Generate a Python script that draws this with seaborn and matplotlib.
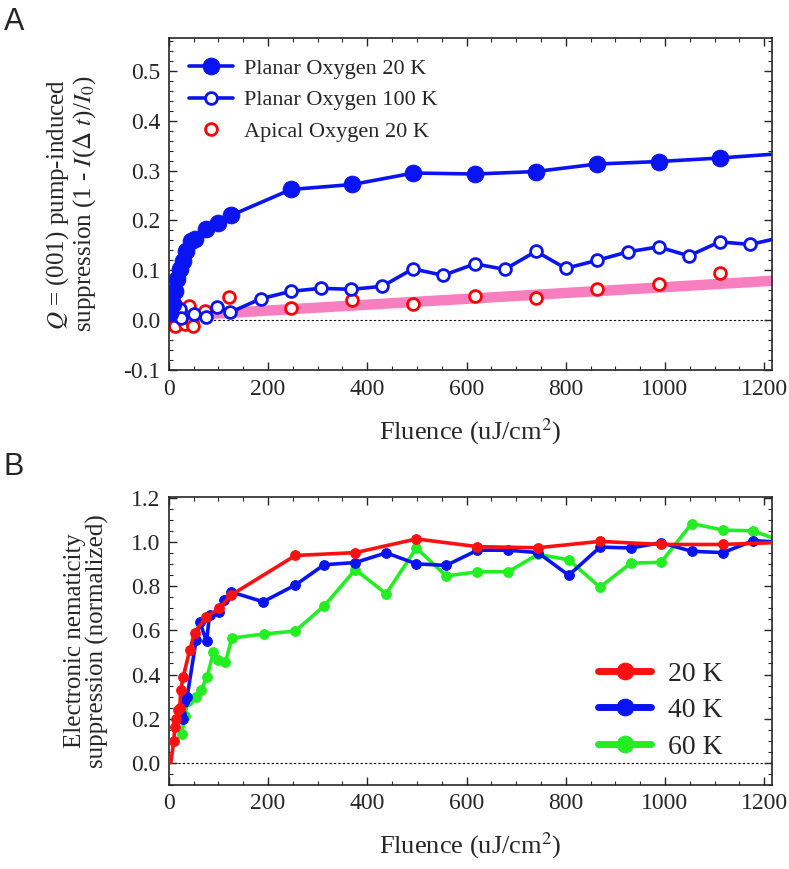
import numpy as np
import pandas as pd
import seaborn as sns
import matplotlib.pyplot as plt
from matplotlib.ticker import MultipleLocator

# Data - panel A
p20_x = [3, 9, 12, 17, 22, 29, 35, 44, 52, 75, 99, 125, 246, 370, 493, 617, 740, 863, 987, 1110, 1235]
p20_y = [0.015, 0.032, 0.058, 0.082, 0.102, 0.118, 0.139, 0.158, 0.163, 0.182, 0.195, 0.210,
         0.262, 0.272, 0.295, 0.293, 0.298, 0.313, 0.318, 0.325, 0.334]
p100_x = [12, 22, 25, 50, 75, 98, 124, 185, 246, 306, 368, 430, 492, 553, 617, 677, 740, 800,
          863, 925, 987, 1048, 1110, 1172, 1235]
p100_y = [0.010, 0.022, 0.005, 0.013, 0.006, 0.027, 0.016, 0.043, 0.058, 0.064, 0.062, 0.068,
          0.103, 0.090, 0.113, 0.102, 0.138, 0.104, 0.120, 0.137, 0.147, 0.129, 0.157, 0.152, 0.166]
ap_x = [5, 12, 15, 32, 40, 46, 48, 72, 122, 246, 370, 493, 617, 740, 863, 987, 1110]
ap_y = [-0.005, -0.012, 0.028, -0.008, 0.028, -0.004, -0.012, 0.018, 0.046,
        0.025, 0.041, 0.033, 0.049, 0.045, 0.063, 0.073, 0.095]
fit_x = [55, 1215]
fit_y = [0.011, 0.079]

# Data - panel B
r20_x = [4, 10, 12, 15, 19, 22, 24, 29, 42, 52, 75, 102, 125, 255, 376, 499, 622, 744, 869,
         992, 1117, 1240]
r20_y = [0.0, 0.10, 0.16, 0.20, 0.24, 0.25, 0.33, 0.39, 0.51, 0.59, 0.66, 0.70, 0.76, 0.94,
         0.953, 1.015, 0.98, 0.975, 1.004, 0.99, 0.99, 1.0]
b40_x = [24, 28, 30, 37, 55, 62, 76, 82, 102, 112, 125, 190, 255, 313, 376, 438, 499, 559,
         622, 684, 744, 806, 869, 931, 992, 1054, 1117, 1178, 1240]
b40_y = [0.22, 0.20, 0.275, 0.30, 0.557, 0.64, 0.55, 0.67, 0.685, 0.74, 0.775, 0.73, 0.806,
         0.898, 0.908, 0.952, 0.902, 0.895, 0.964, 0.964, 0.953, 0.850, 0.978, 0.974, 0.998,
         0.959, 0.953, 1.007, 1.0]
g60_x = [26, 32, 38, 55, 65, 77, 90, 100, 114, 127, 192, 255, 313, 376, 438, 499, 559, 622,
         684, 744, 806, 869, 931, 992, 1054, 1117, 1178, 1240]
g60_y = [0.13, 0.21, 0.28, 0.30, 0.33, 0.39, 0.50, 0.465, 0.455, 0.565, 0.584, 0.597, 0.711,
         0.876, 0.766, 0.974, 0.847, 0.866, 0.866, 0.945, 0.920, 0.796, 0.905, 0.909, 1.085,
         1.055, 1.052, 1.0]

sns.set_style("ticks")
plt.rcParams['font.family'] = ['Liberation Serif', 'DejaVu Serif']
plt.rcParams['mathtext.fontset'] = 'stix'
plt.rcParams['xtick.direction'] = 'in'
plt.rcParams['ytick.direction'] = 'in'
plt.rcParams['axes.linewidth'] = 1.2

fig = plt.figure(figsize=(7.89, 8.69), dpi=100)
axA = fig.add_axes([0.214, 0.574, 0.764, 0.382])
axB = fig.add_axes([0.214, 0.097, 0.764, 0.331])

blue = '#0a14f0'
red = '#ff1010'
green = '#22ee22'

# Panel A
sns.lineplot(x=fit_x, y=fit_y, ax=axA, color='#f77fbf', linewidth=7.5, zorder=1)
sns.lineplot(x=p20_x, y=p20_y, ax=axA, estimator=None, sort=False, color=blue, linewidth=2.6,
             marker='o', markersize=12, markeredgecolor=blue, label='Planar Oxygen 20 K', zorder=4)
sns.lineplot(x=p100_x, y=p100_y, ax=axA, estimator=None, sort=False, color=blue, linewidth=2.6,
             marker='o', markersize=8.5, markerfacecolor='white', markeredgecolor=blue,
             markeredgewidth=2, label='Planar Oxygen 100 K', zorder=3)
sns.lineplot(x=ap_x, y=ap_y, ax=axA, estimator=None, sort=False, color='red', linestyle='',
             marker='o', markersize=8.5, markerfacecolor='white', markeredgecolor='red',
             markeredgewidth=2, label='Apical Oxygen 20 K', zorder=2)
axA.axhline(0, color='black', linestyle=(0, (2, 2)), linewidth=0.8, zorder=0)
axA.set_xlim(0, 1215)
axA.set_ylim(-0.1, 0.565)
axA.xaxis.set_major_locator(MultipleLocator(200))
axA.xaxis.set_minor_locator(MultipleLocator(50))
axA.yaxis.set_minor_locator(MultipleLocator(0.02))
axA.set_yticks([-0.1, 0.0, 0.1, 0.2, 0.3, 0.4, 0.5])
axA.set_yticklabels(['-0.1', '0.0', '0.1', '0.2', '0.3', '0.4', '0.5'])
axA.set_xlabel('Fluence (uJ/cm$^2$)', fontsize=19, labelpad=12)
axA.set_ylabel('$Q$ = (001) pump-induced\nsuppression (1 - $I$($\\Delta$ $t$)/$I_0$)',
               fontsize=18, labelpad=18, linespacing=1.0)
legA = axA.legend(loc='upper left', bbox_to_anchor=(0.0, 1.0), frameon=False, fontsize=16,
                  handlelength=2.0, labelspacing=0.5, borderaxespad=0.5, handletextpad=0.5)

# Panel B
sns.lineplot(x=g60_x, y=g60_y, ax=axB, estimator=None, sort=False, color=green, linewidth=2.6,
             marker='o', markersize=7, markeredgecolor=green, label='60 K', zorder=2)
sns.lineplot(x=b40_x, y=b40_y, ax=axB, estimator=None, sort=False, color=blue, linewidth=2.6,
             marker='o', markersize=7, markeredgecolor=blue, label='40 K', zorder=3)
sns.lineplot(x=r20_x[:2], y=r20_y[:2], ax=axB, estimator=None, sort=False, color=red,
             linewidth=2.6, zorder=4)
sns.lineplot(x=r20_x[1:], y=r20_y[1:], ax=axB, estimator=None, sort=False, color=red,
             linewidth=2.6, marker='o', markersize=7, markeredgecolor=red, label='20 K', zorder=4)
axB.axhline(0, color='black', linestyle=(0, (2, 2)), linewidth=0.8, zorder=0)
axB.set_xlim(0, 1215)
axB.set_ylim(-0.1, 1.205)
axB.xaxis.set_major_locator(MultipleLocator(200))
axB.xaxis.set_minor_locator(MultipleLocator(50))
axB.yaxis.set_minor_locator(MultipleLocator(0.05))
axB.set_yticks([0.0, 0.2, 0.4, 0.6, 0.8, 1.0, 1.2])
axB.set_yticklabels(['0.0', '0.2', '0.4', '0.6', '0.8', '1.0', '1.2'])
axB.set_xlabel('Fluence (uJ/cm$^2$)', fontsize=19, labelpad=12)
axB.set_ylabel('Electronic nematicity\nsuppression (normalized)', fontsize=18, labelpad=16,
               linespacing=1.0)
handles, labels = axB.get_legend_handles_labels()
order = [labels.index(l) for l in ['20 K', '40 K', '60 K']]
legB = axB.legend([handles[i] for i in order], [labels[i] for i in order], loc='lower right',
                  bbox_to_anchor=(0.96, 0.0), frameon=False, fontsize=20, handlelength=1.9,
                  labelspacing=0.4, handletextpad=0.6)
for h in legB.legend_handles:
    h.set_linewidth(5)
    h.set_markersize(12)

for ax in (axA, axB):
    ax.tick_params(which='both', top=True, right=True, labelsize=17, pad=6)
    ax.tick_params(which='major', length=6, width=1)
    ax.tick_params(which='minor', length=3, width=0.8)

fig.text(0.005, 0.975, 'A', fontsize=22, family='Liberation Sans', va='center')
fig.text(0.005, 0.463, 'B', fontsize=22, family='Liberation Sans', va='center')

fig.savefig('out.png', dpi=100)
